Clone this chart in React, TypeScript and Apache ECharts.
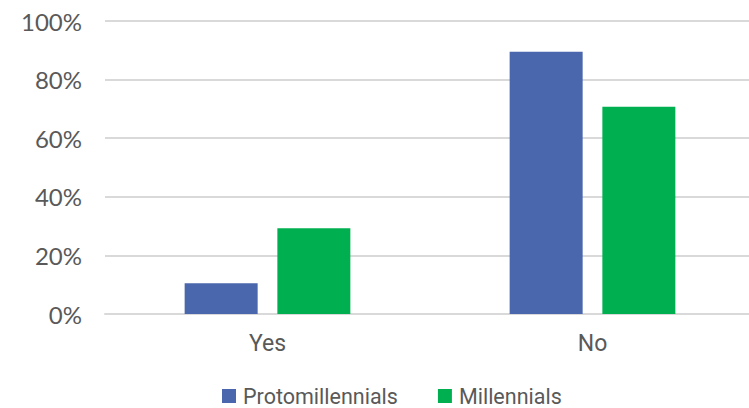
import React, { useEffect, useRef } from "react";
import * as echarts from "echarts";

const categories = ["Yes", "No"];
const seriesNames = ["Protomillennials", "Millennials"];
const protomillennials = [10.5, 89.5];
const millennials = [29.3, 70.7];
const yTicks = { min: 0, max: 100, interval: 20 };

export default function App() {
  const ref = useRef<HTMLDivElement>(null);
  useEffect(() => {
    if (!ref.current) return;
    const chart = echarts.init(ref.current, undefined, { renderer: "svg" });
    chart.setOption({
      animation: false,
      backgroundColor: "#ffffff",
      grid: {
        left: 105,
        width: 650,
        top: 21,
        height: 293,
        containLabel: false,
        outerBoundsMode: "none",
      },
      legend: {
        data: seriesNames,
        left: 222,
        top: 385,
        padding: 0,
        itemWidth: 14,
        itemHeight: 14,
        itemGap: 40,
        icon: "rect",
        textStyle: {
          color: "#595959",
          fontSize: 21.5,
          fontFamily: "Roboto",
          padding: [0, 0, 0, 2],
          lineHeight: 22,
        },
      },
      xAxis: {
        type: "category",
        data: categories,
        axisLine: { show: true, lineStyle: { color: "#D9D9D9", width: 2 } },
        axisTick: { show: false },
        axisLabel: {
          color: "#595959",
          fontSize: 23,
          fontFamily: "Roboto",
          margin: 18,
        },
      },
      yAxis: {
        type: "value",
        min: yTicks.min,
        max: yTicks.max,
        interval: yTicks.interval,
        axisLine: { show: false },
        axisTick: { show: false },
        splitLine: { lineStyle: { color: "#D9D9D9", width: 2 } },
        axisLabel: {
          formatter: "{value}%",
          color: "#595959",
          fontSize: 24,
          fontFamily: "Lato",
          margin: 23,
        },
      },
      series: [
        {
          name: seriesNames[0],
          type: "bar",
          data: protomillennials,
          barWidth: 73,
          barGap: "27%",
          itemStyle: { color: "#4A66AC" },
        },
        {
          name: seriesNames[1],
          type: "bar",
          data: millennials,
          barWidth: 73,
          barGap: "27%",
          itemStyle: { color: "#00B050" },
        },
      ],
    });
    return () => chart.dispose();
  }, []);
  return (
    <div
      ref={ref}
      style={{ position: "fixed", left: 0, top: 0, width: 749, height: 408 }}
    />
  );
}
